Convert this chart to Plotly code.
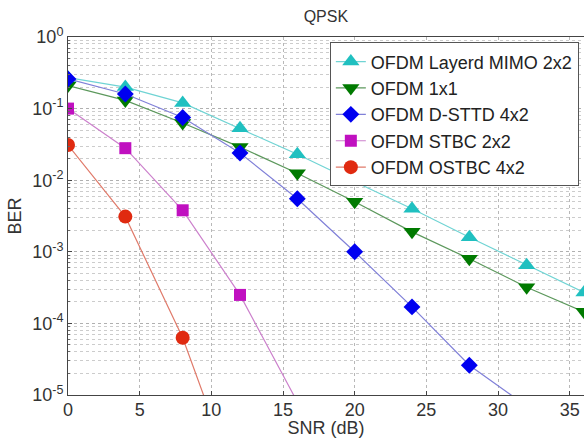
import plotly.graph_objects as go

snr = [0, 4, 8, 12, 16, 20, 24, 28, 32, 36]

ber_layered_mimo_2x2 = [0.27, 0.20, 0.12, 0.053, 0.023, 0.0095, 0.004, 0.0016, 0.00065, 0.00027]
ber_1x1 = [0.21, 0.13, 0.063, 0.029, 0.0125, 0.005, 0.0019, 0.0008, 0.00032, 0.000145]
snr_dsttd = [0, 4, 8, 12, 16, 20, 24, 28, 32]
ber_dsttd_4x2 = [0.26, 0.16, 0.075, 0.024, 0.0055, 0.001, 0.00017, 0.000026, 0.000007]
snr_stbc = [0, 4, 8, 12, 16]
ber_stbc_2x2 = [0.1, 0.028, 0.0038, 0.00025, 0.000008]
snr_ostbc = [0, 4, 8, 12]
ber_ostbc_4x2 = [0.031, 0.0031, 0.000063, 0.0000004]

names = ["OFDM Layerd MIMO 2x2", "OFDM 1x1", "OFDM D-STTD 4x2", "OFDM STBC 2x2", "OFDM OSTBC 4x2"]

series = [
    (snr, ber_layered_mimo_2x2, "#20c0c0", "#70d4d4", "triangle-up", 15),
    (snr, ber_1x1, "#007a00", "#5c985c", "triangle-down", 15),
    (snr_dsttd, ber_dsttd_4x2, "#0000f0", "#8080d8", "diamond", 13),
    (snr_stbc, ber_stbc_2x2, "#c010c0", "#cc80cc", "square", 12),
    (snr_ostbc, ber_ostbc_4x2, "#e02a10", "#e07a6a", "circle", 14),
]

fig = go.Figure()
for (xs, ys, mc, lc, sym, sz), nm in zip(series, names):
    fig.add_trace(go.Scatter(
        x=xs, y=ys, name=nm, mode="lines+markers",
        line=dict(color=lc, width=1.2),
        marker=dict(color=mc, symbol=sym, size=sz, line=dict(width=0)),
        cliponaxis=True,
    ))

font_family = "Liberation Sans, Arial, sans-serif"
ytickvals = [1e0, 1e-1, 1e-2, 1e-3, 1e-4, 1e-5]
yticktext = ["10<sup>0</sup>", "10<sup>-1</sup>", "10<sup>-2</sup>", "10<sup>-3</sup>", "10<sup>-4</sup>", "10<sup>-5</sup>"]
yminor = [m * 10 ** e for e in range(-5, 0) for m in range(2, 10)]

fig.update_layout(
    width=584, height=438,
    margin=dict(l=68, r=0, t=37, b=43),
    paper_bgcolor="white", plot_bgcolor="white",
    font=dict(family=font_family, size=18, color="#333333"),
    title=dict(text="QPSK", x=0.558, xanchor="center", y=0.963, yanchor="middle",
               font=dict(size=16, color="#333333")),
    showlegend=True,
    legend=dict(x=0.99, xanchor="right", y=0.985, yanchor="top",
                bgcolor="white", bordercolor="#555555", borderwidth=1,
                font=dict(size=18, color="#222222"), tracegroupgap=0,
                itemwidth=30),
)

fig.update_xaxes(
    range=[0, 36], tickvals=[0, 5, 10, 15, 20, 25, 30, 35],
    showgrid=True, gridcolor="#b8b8b8", griddash="dot", gridwidth=1,
    showline=True, linecolor="#444444", linewidth=1, mirror=True,
    ticks="inside", ticklen=4, tickcolor="#444444",
    zeroline=False, ticklabelstandoff=-2,
    title=dict(text="SNR (dB)", standoff=0, font=dict(size=18)),
    tickfont=dict(size=18),
)
fig.update_yaxes(
    type="log", range=[-5, 0],
    tickvals=ytickvals, ticktext=yticktext,
    showgrid=True, gridcolor="#b0b0b0", griddash="dot", gridwidth=1,
    minor=dict(tickvals=yminor, showgrid=True, gridcolor="#cccccc", griddash="dot",
               ticks="inside", ticklen=2, tickcolor="#666666"),
    showline=True, linecolor="#444444", linewidth=1, mirror=True,
    ticks="inside", ticklen=4, tickcolor="#444444",
    zeroline=False,
    title=dict(text="BER", standoff=5, font=dict(size=18)),
    tickfont=dict(size=18),
)

fig.write_html("out.html")
